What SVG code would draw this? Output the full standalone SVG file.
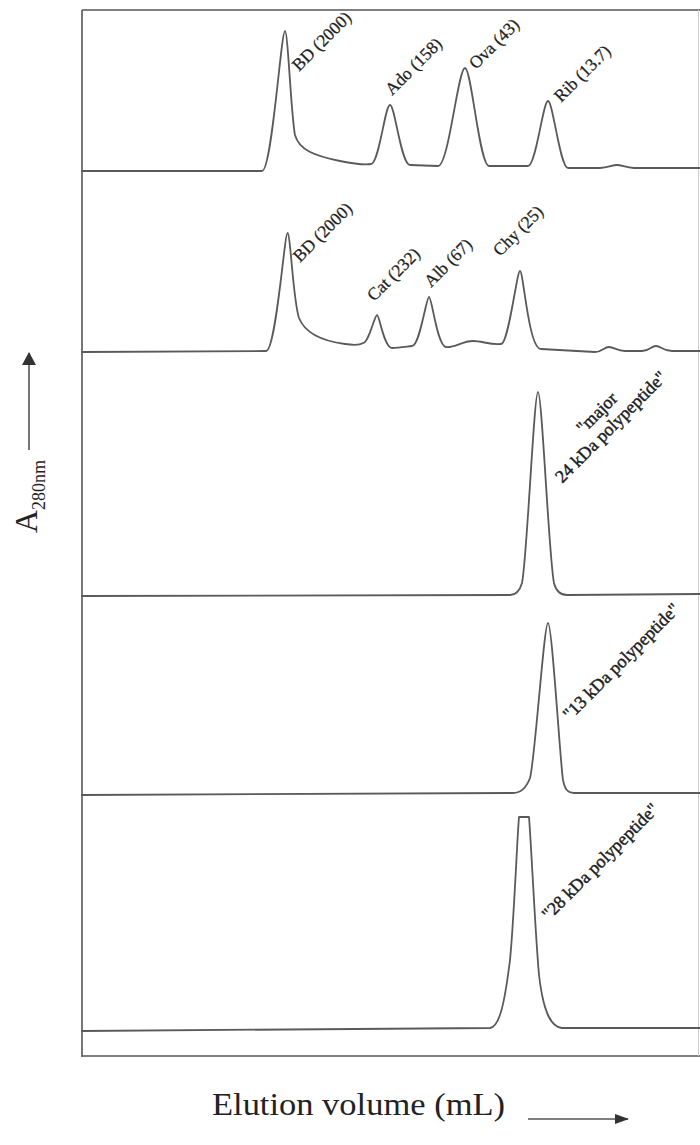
<svg xmlns="http://www.w3.org/2000/svg" width="700" height="1145" viewBox="0 0 700 1145">
<style>
.frame{fill:none;stroke:#555;stroke-width:1.6}
.trace{fill:none;stroke:#5a5a5a;stroke-width:1.8;stroke-linejoin:round;stroke-linecap:round}
.lbl{font-family:"Liberation Serif","Times New Roman",serif;font-size:17.5px;fill:#1e1e1e;stroke:#1e1e1e;stroke-width:0.25}
.lbl2{font-family:"Liberation Serif","Times New Roman",serif;font-size:18px;fill:#1e1e1e;stroke:#1e1e1e;stroke-width:0.45}
.axis{font-family:"Liberation Serif","Times New Roman",serif;fill:#222}
</style>
<defs>
<marker id="ahh" markerWidth="14" markerHeight="10" refX="13" refY="5" orient="auto" markerUnits="userSpaceOnUse">
<path d="M0,0 L14,5 L0,10 Z" fill="#333"/>
</marker>
<marker id="ahv" markerWidth="13" markerHeight="14" refX="12" refY="7" orient="auto" markerUnits="userSpaceOnUse">
<path d="M0,0 L13,7 L0,14 Z" fill="#333"/>
</marker>
</defs>
<rect x="0" y="0" width="700" height="1145" fill="#fff"/>
<g id="frame">
<line class="frame" x1="82" y1="10" x2="700" y2="10"/>
<line class="frame" x1="82" y1="10" x2="82" y2="1057"/>
<line class="frame" x1="82" y1="1056" x2="700" y2="1056"/>
<line x1="698.5" y1="10" x2="698.5" y2="1056" stroke="#ccc" stroke-width="1"/>
</g>
<g id="panel1">
<path class="trace" d="M82,171 L262,171 C272,171 281,31 285,31 C288,31 291,115 295,135 C299,150 315,156 340,161 C355,164 365,165 371,164 C379,164 385,105 390,105 C395,105 401,165 410,165 L438,166 C448.8,166 458,68 465,68 C471.5,68 479.4,166 489,166 L528,166 C536,166 543,101 548,101 C553,101 560,168 568,168 L600,168 C608,168 612,165 617,165 C622,165 626,168 634,168 L700,168"/>
<text class="lbl" transform="translate(299,72) rotate(-45)">BD (2000)</text>
<text class="lbl" transform="translate(392,96) rotate(-45)">Ado (158)</text>
<text class="lbl" transform="translate(476,70) rotate(-45)">Ova (43)</text>
<text class="lbl" transform="translate(561,103) rotate(-45)">Rib (13.7)</text>
</g>
<g id="panel2">
<path class="trace" d="M82,352 L266,351 C276,351 284.5,233 287.5,233 C290.5,233 293,300 299,318 C305,333 322,341 345,344 C355,345.5 360,345 363,343 C368.6,343 374.7,315 377,315 C379.5,315 384,348 392,348 C398,348 404,347 412,346 C419.8,346 426.2,297 429,297 C432,297 437,346 446,347 C455,348 462,341 473,341 C482,341 490,345 501,344 C508.6,344 516.8,271 520,271 C523.5,271 528.4,349 541,349 L595,352 C602,352 604,347 609,347 C614,347 617,351 625,351 L642,351 C650,351 651,346 656,346 C661,346 663,351 672,351 L700,351"/>
<text class="lbl" transform="translate(300,263) rotate(-45)">BD (2000)</text>
<text class="lbl" transform="translate(374,302) rotate(-45)">Cat (232)</text>
<text class="lbl" transform="translate(431,288) rotate(-45)">Alb (67)</text>
<text class="lbl" transform="translate(500,257) rotate(-45)">Chy (25)</text>
</g>
<g id="panel3">
<path class="trace" d="M82,596 L510,595 C516,595 520,590 522,583 C527,560 534,392 538,392 C542,392 549,560 554,583 C556,591 560,595 567,595 L700,594"/>
<text class="lbl2" text-anchor="middle" transform="translate(601,417) rotate(-45)">"major</text>
<text class="lbl2" text-anchor="middle" transform="translate(615,431) rotate(-45)">24 kDa polypeptide"</text>
</g>
<g id="panel4">
<path class="trace" d="M82,795 L513,793 C522,793 527,786 530,778 C535,760 544,623 548,623 C552,623 560,760 563,780 C565,790 568,793 574,793 L700,793"/>
<text class="lbl2" transform="translate(570,721) rotate(-45)">"13 kDa polypeptide"</text>
</g>
<g id="panel5">
<path class="trace" d="M82,1031 L490,1028 C500,1027 505,1000 510,960 C514,920 517,840 519,817 L529,817 C531,840 535,930 539,975 C543,1010 550,1027 562,1028 L700,1028"/>
<text class="lbl2" transform="translate(549,921) rotate(-45)">"28 kDa polypeptide"</text>
</g>
<g id="axes">
<line x1="29" y1="450" x2="29" y2="353" stroke="#555" stroke-width="1.6" marker-end="url(#ahv)"/>
<text class="axis" font-size="32" transform="translate(37,533) rotate(-90)">A<tspan font-size="18" dy="8">280nm</tspan></text>
<text class="axis" font-size="31" x="212" y="1115" textLength="293" lengthAdjust="spacingAndGlyphs">Elution volume (mL)</text>
<line x1="528" y1="1119" x2="628" y2="1119" stroke="#555" stroke-width="1.6" marker-end="url(#ahh)"/>
</g>
</svg>
